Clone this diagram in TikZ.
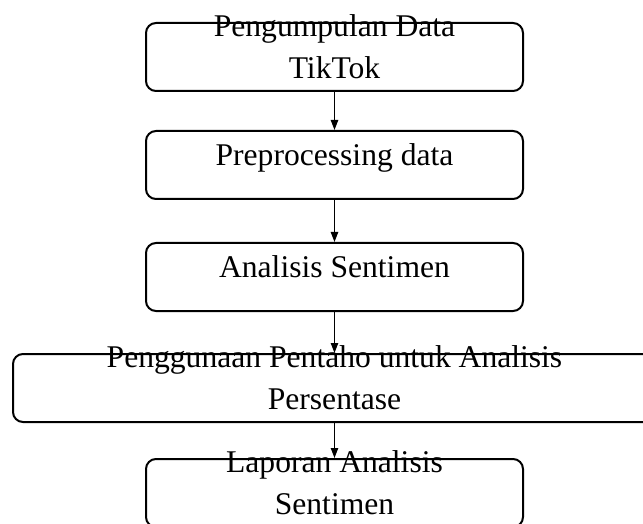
\documentclass[tikz,border=0pt]{standalone}
\usepackage{fontspec}
\setmainfont{Liberation Serif}
\usetikzlibrary{arrows.meta}
\newcommand{\boxtext}[1]{\begin{tabular}{@{}c@{}}#1\end{tabular}}

\begin{document}
\begin{tikzpicture}[x=0.75pt,y=-0.75pt,->,>={Triangle[length=7.5pt,width=5.5pt]},line width=1pt,
  flow box/.style={rectangle,rounded corners=7.5pt,draw,line width=1.5pt,minimum width=282.75pt,minimum height=51pt,inner sep=0pt,text height=0pt,text depth=0pt,font=\fontsize{23.7}{31.5}\selectfont},
  wide box/.style={flow box,minimum width=482.25pt}]
  \useasboundingbox (0,0) rectangle (643,524);
  \clip (0,0) rectangle (643,524);

  \node [flow box] (1) at (334.5,57) {\boxtext{Pengumpulan Data\\TikTok}};
  \node [flow box] (2) at (334.5,165) {\boxtext{Preprocessing data}};
  \node [flow box] (3) at (334.5,277) {\boxtext{Analisis Sentimen}};
  \node [wide box] (4) at (334.5,388) {\boxtext{Penggunaan Pentaho untuk Analisis\\Persentase}};
  \node [flow box] (5) at (334.5,493) {\boxtext{Laporan Analisis\\Sentimen}};

  \path
    (1) edge (2)
    (2) edge (3)
    (3) edge (4)
    (4) edge (5)
    ;
\end{tikzpicture}
\end{document}
